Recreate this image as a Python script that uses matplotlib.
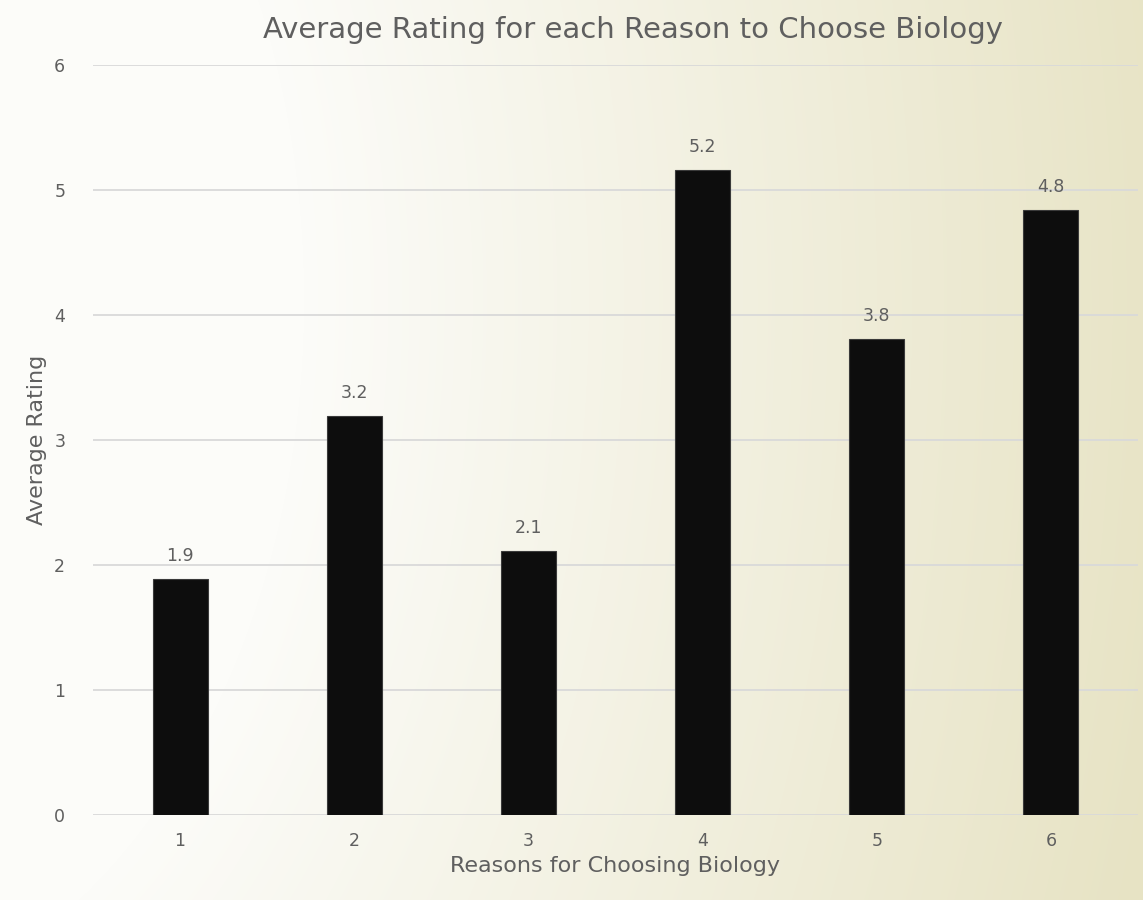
import numpy as np
import matplotlib
matplotlib.use("Agg")
import matplotlib.pyplot as plt
from matplotlib.colors import LinearSegmentedColormap

reasons = [1, 2, 3, 4, 5, 6]
ratings = [1.89, 3.19, 2.11, 5.16, 3.81, 4.84]
y_ticks = [0, 1, 2, 3, 4, 5, 6]

title = "Average Rating for each Reason to Choose Biology"
x_label = "Reasons for Choosing Biology"
y_label = "Average Rating"

text_color = "#5f5f5f"
grid_color = "#d9d9d9"
bar_color = "#0d0d0d"
plt.rcParams["font.family"] = ["DejaVu Sans"]

W, H = 1143, 900
fig = plt.figure(figsize=(W / 100, H / 100), dpi=100)

# soft radial background: near-white on the left, warm beige toward the right
bg = fig.add_axes([0, 0, 1, 1], zorder=-10)
yy, xx = np.mgrid[0:H, 0:W]
d = np.hypot(xx + 200, (yy - 300) * 0.7)
t = np.clip((d - 500) / 900, 0, 1)
cmap = LinearSegmentedColormap.from_list("bg", ["#fcfcf9", "#e7e3c4"])
bg.imshow(t, cmap=cmap, vmin=0, vmax=1, aspect="auto", extent=[0, W, H, 0])
bg.set_axis_off()

ax = fig.add_axes([93 / W, 1 - 815 / H, (1138 - 93) / W, (815 - 65) / H])
ax.patch.set_alpha(0)
bars = ax.bar(reasons, ratings, width=0.315, color=bar_color,
              edgecolor="#3a3a3a", linewidth=0.8, zorder=3)
for x, v in zip(reasons, ratings):
    ax.annotate(f"{v:.1f}", (x, v), xytext=(0, 10), textcoords="offset points",
                ha="center", va="bottom", fontsize=12.5, color=text_color)

ax.set_xlim(0.5, 6.5)
ax.set_ylim(0, 6)
ax.set_yticks(y_ticks)
ax.set_xticks(reasons)
ax.yaxis.grid(True, color=grid_color, linewidth=1.3, zorder=0)
ax.set_axisbelow(True)
for s in ax.spines.values():
    s.set_visible(False)
ax.tick_params(length=0, labelsize=12.5, colors=text_color)
ax.tick_params(axis="y", pad=20)
ax.tick_params(axis="x", pad=12)

fig.text(633 / W, 1 - 30 / H, title, ha="center", va="center",
         fontsize=21, color=text_color)
fig.text(615 / W, 1 - 866 / H, x_label, ha="center", va="center",
         fontsize=16, color=text_color)
fig.text(37 / W, 1 - 440 / H, y_label, ha="center", va="center",
         rotation=90, fontsize=16, color=text_color)

fig.savefig("out.png", dpi=100)
